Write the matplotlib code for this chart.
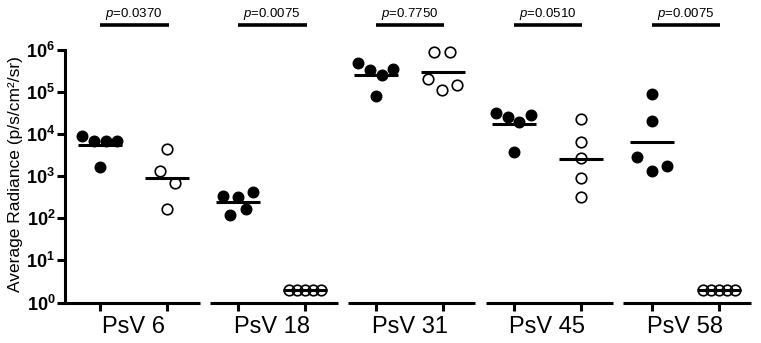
import numpy as np
import matplotlib
matplotlib.use("Agg")
import matplotlib.pyplot as plt
import matplotlib.transforms as mtransforms

plt.rcParams['font.family'] = ['Liberation Sans', 'DejaVu Sans']
plt.rcParams['mathtext.fontset'] = 'custom'
plt.rcParams['mathtext.rm'] = 'Liberation Sans'
plt.rcParams['mathtext.bf'] = 'Liberation Sans:bold'
plt.rcParams['mathtext.it'] = 'Liberation Sans:italic'

# data
groups = ['PsV 6', 'PsV 18', 'PsV 31', 'PsV 45', 'PsV 58']
p_values = ['0.0370', '0.0075', '0.7750', '0.0510', '0.0075']

filled_vals = [
    [9.1e3, 6.7e3, 6.7e3, 6.7e3, 1.65e3],
    [332, 314, 413, 169, 122],
    [5.0e5, 3.35e5, 2.5e5, 3.55e5, 8.2e4],
    [3.25e4, 2.55e4, 1.9e4, 2.85e4, 3.75e3],
    [8.9e4, 2.0e4, 2.8e3, 1.8e3, 1.3e3],
]
open_vals = [
    [4.4e3, 1.3e3, 7.1e2, 1.67e2],
    [2, 2, 2, 2, 2],
    [9.1e5, 9.1e5, 2.0e5, 1.12e5, 1.45e5],
    [2.27e4, 6.6e3, 2.7e3, 8.9e2, 3.2e2],
    [2, 2, 2, 2, 2],
]

# horizontal spread of the dots around each tick (tick units)
filled_jitter = [
    [-0.26, -0.085, 0.085, 0.25, 0],
    [-0.22, 0, 0.23, 0.115, -0.12],
    [-0.26, -0.085, 0.09, 0.26, 0],
    [-0.26, -0.085, 0.08, 0.25, 0],
    [0, 0, -0.22, 0.22, 0],
]
open_jitter = [
    [0, -0.11, 0.11, 0],
    [-0.24, -0.12, 0, 0.12, 0.24],
    [-0.13, 0.095, -0.23, -0.015, 0.21],
    [0, 0, 0, 0, 0],
    [-0.24, -0.12, 0, 0.12, 0.24],
]

def geo_mean(v):
    return 10 ** np.mean(np.log10(v))

W, H = 761, 343
fig = plt.figure(figsize=(W / 100, H / 100), dpi=100)
ax = fig.add_axes([65 / W, (H - 302.5) / H, (752 - 65) / W, 252.5 / H])
ax.set_yscale('log')
ax.set_ylim(1, 1e6)
ax.set_xlim(-0.52, 9.69)

lw = 2.2
step = 2.05
trans = mtransforms.blended_transform_factory(ax.transData, ax.transAxes)
ticks = []
for i, name in enumerate(groups):
    a = i * step
    b = a + 1
    ticks += [a, b]

    fx = a + np.array(filled_jitter[i])
    ax.plot(fx, filled_vals[i], 'o', color='black', ms=7.6, zorder=3, clip_on=False)
    ox = b + np.array(open_jitter[i])
    ax.plot(ox, open_vals[i], 'o', mfc='none', mec='black', mew=1.2, ms=7.6,
            zorder=3, clip_on=False)

    ax.hlines(geo_mean(filled_vals[i]), a - 0.33, a + 0.33, color='black', lw=lw, zorder=4)
    ax.hlines(geo_mean(open_vals[i]), b - 0.33, b + 0.33, color='black', lw=lw, zorder=4)

    # broken x axis segment
    left = -0.52 if i == 0 else a - 0.42
    ax.plot([left, b + 0.48], [0, 0], color='black', lw=lw, transform=trans,
            clip_on=False, solid_capstyle='butt')

    # significance bar
    ax.plot([a, b + 0.02], [1.098, 1.098], color='black', lw=2.6, transform=trans,
            clip_on=False, solid_capstyle='butt')
    ax.text((a + b) / 2, 1.143, r'$\mathit{p}$=' + p_values[i], transform=trans,
            ha='center', va='center', fontsize=9.5)

for s in ['top', 'right', 'bottom']:
    ax.spines[s].set_visible(False)
ax.spines['left'].set_linewidth(lw)

ax.set_xticks(ticks)
ax.set_xticklabels([])
ax.tick_params(axis='x', which='major', length=5.5, width=lw)
centers = [i * step + 0.5 for i in range(len(groups))]
ax.set_xticks(centers, groups, minor=True)
ax.tick_params(axis='x', which='minor', length=0, pad=9.5, labelsize=17)

yt = [10.0 ** k for k in range(7)]
ax.set_yticks(yt, [r'$\mathbf{10^{%d}}$' % k for k in range(7)])
ax.yaxis.set_minor_locator(matplotlib.ticker.NullLocator())
ax.tick_params(axis='y', length=5.5, width=lw, pad=1.5, labelsize=13)

fig.text(16 / W, 1 - 174 / H, 'Average Radiance (p/s/cm²/sr)', rotation=90,
         ha='center', va='center', fontsize=12.5)

fig.savefig('out.png', dpi=100)
